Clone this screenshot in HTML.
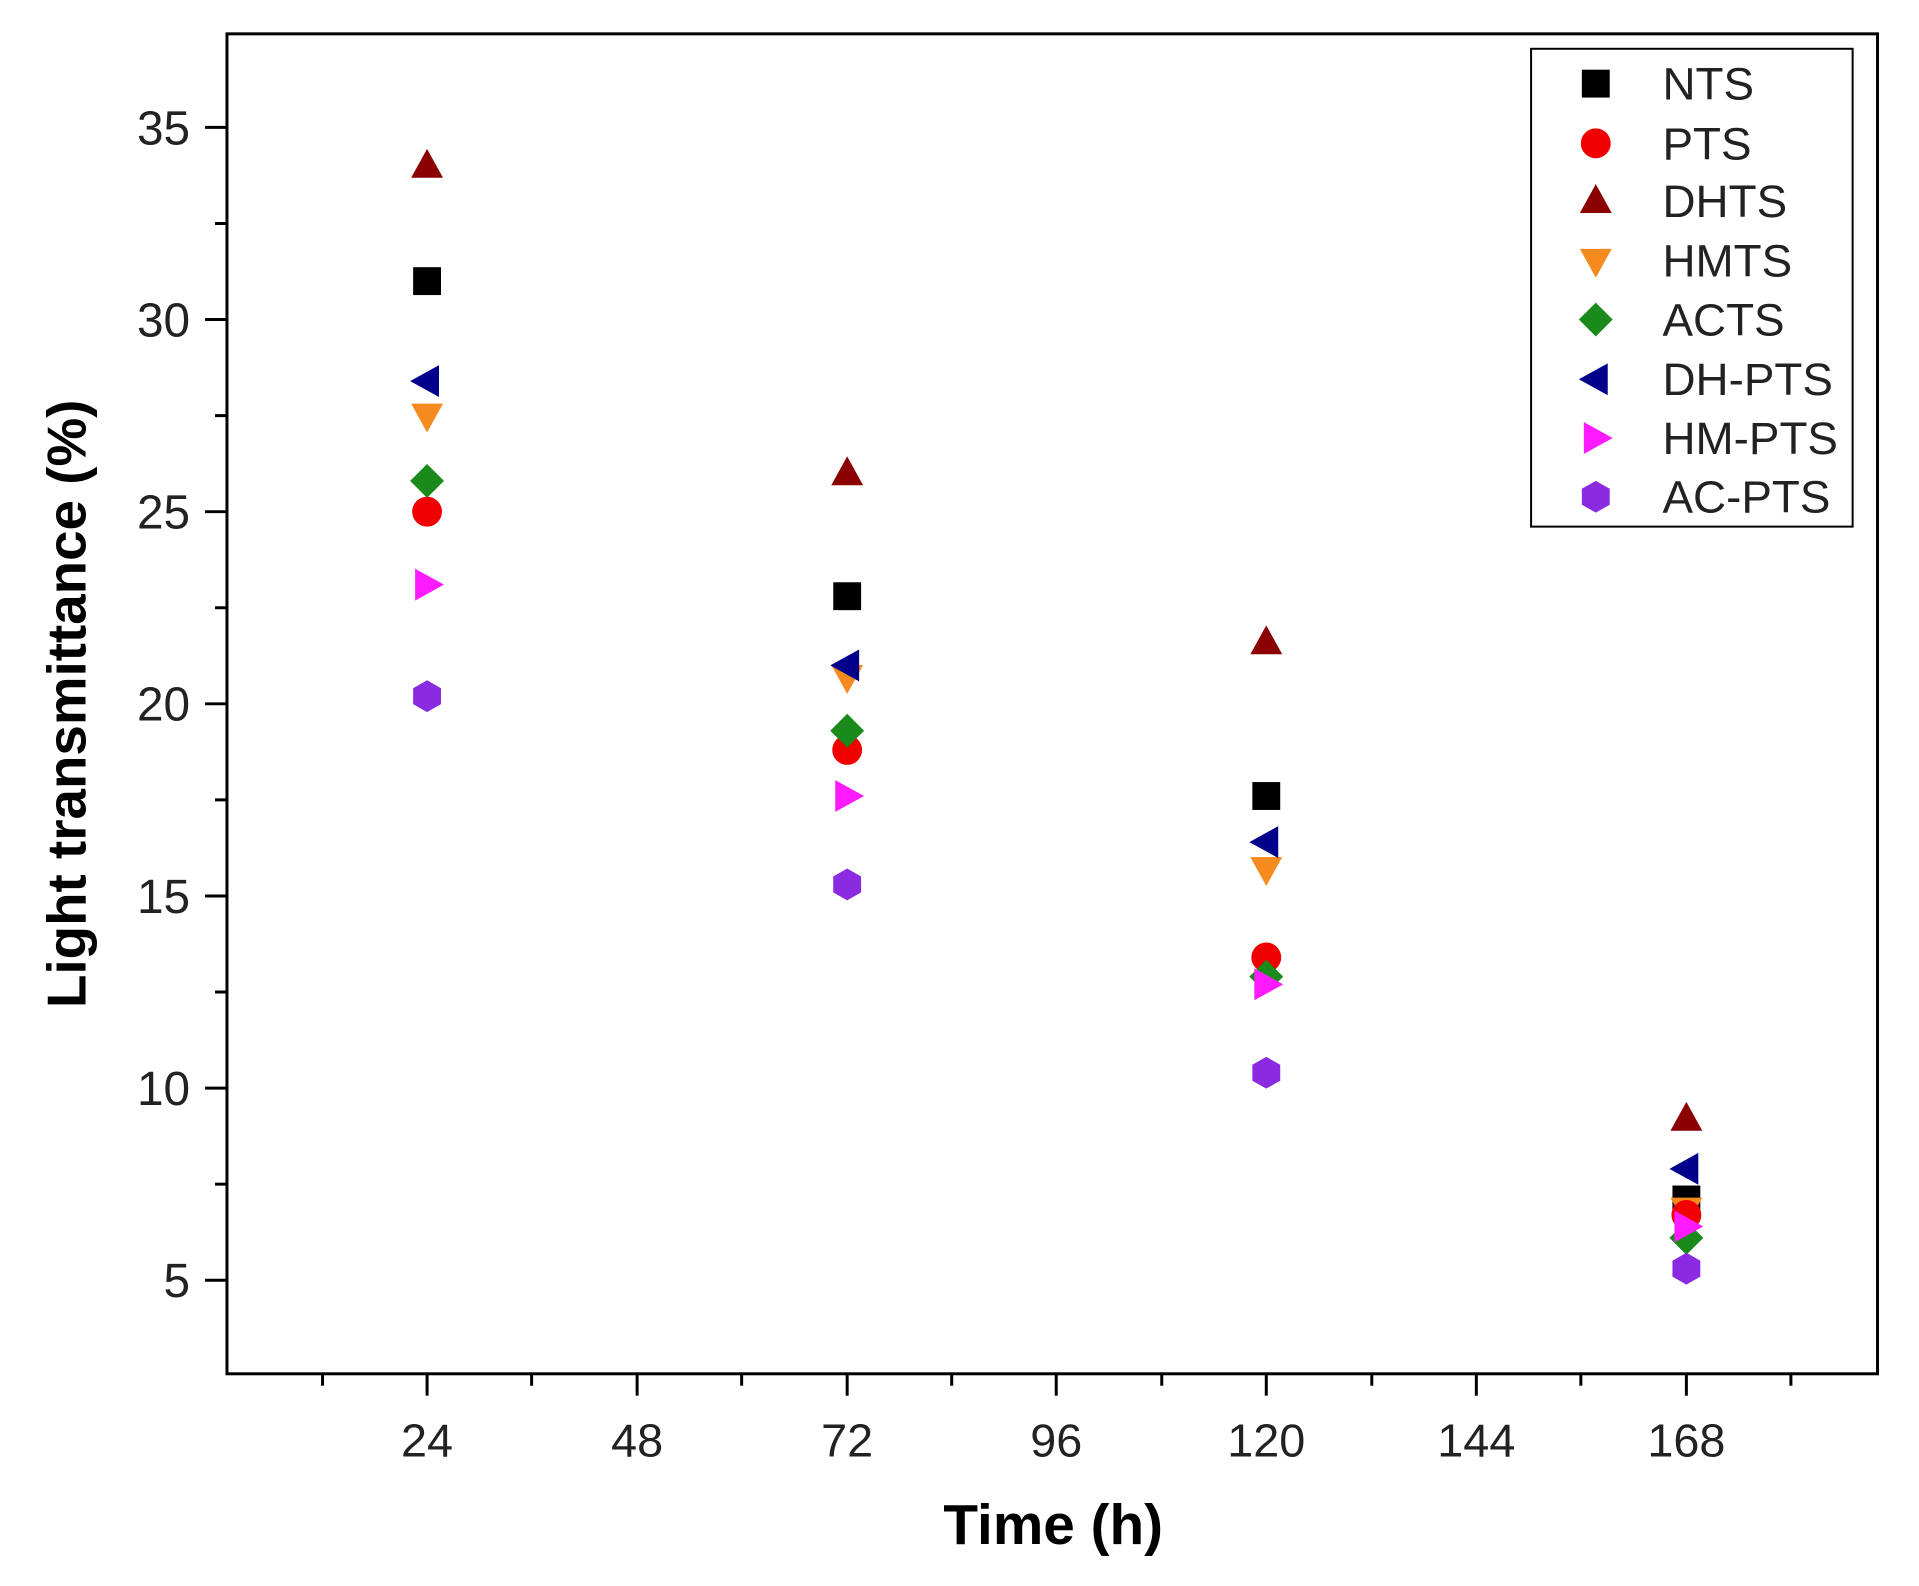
<!DOCTYPE html>
<html><head><meta charset="utf-8"><style>
body{margin:0;background:#fff}
svg{display:block}
text{font-family:"Liberation Sans",Arial,sans-serif}
</style></head><body>
<svg width="1919" height="1586" viewBox="0 0 1919 1586" xmlns="http://www.w3.org/2000/svg">
<defs>
<g id="sq"><rect x="-14" y="-14" width="28" height="28" fill="#000"/></g>
<g id="ci"><circle r="15" fill="#f00000"/></g>
<g id="tu"><polygon points="0,-17 16,12 -16,12" fill="#8b0000"/></g>
<g id="td"><polygon points="0,17 16,-12 -16,-12" fill="#f58a1f"/></g>
<g id="di"><polygon points="0,-17 17,0 0,17 -17,0" fill="#1a8a1a"/></g>
<g id="tl"><polygon points="-17,0 12,-16 12,16" fill="#00008b"/></g>
<g id="tr"><polygon points="17,0 -12,-16 -12,16" fill="#ff1aff"/></g>
<g id="hx"><polygon points="0,-16 14,-8 14,8 0,16 -14,8 -14,-8" fill="#8a2be2"/></g>
</defs>
<g transform="scale(0.9955)">
<rect x="228" y="34" width="1658" height="1346" fill="none" stroke="#000" stroke-width="3"/>
<g stroke="#000" stroke-width="3">
<line x1="206" y1="128" x2="228" y2="128"/><line x1="206" y1="321" x2="228" y2="321"/><line x1="206" y1="514" x2="228" y2="514"/><line x1="206" y1="707" x2="228" y2="707"/><line x1="206" y1="900" x2="228" y2="900"/><line x1="206" y1="1093" x2="228" y2="1093"/><line x1="206" y1="1286" x2="228" y2="1286"/>
<line x1="216" y1="224.5" x2="228" y2="224.5"/><line x1="216" y1="417.5" x2="228" y2="417.5"/><line x1="216" y1="610.5" x2="228" y2="610.5"/><line x1="216" y1="803.5" x2="228" y2="803.5"/><line x1="216" y1="996.5" x2="228" y2="996.5"/><line x1="216" y1="1189.5" x2="228" y2="1189.5"/>
<line x1="429" y1="1380" x2="429" y2="1402"/><line x1="640" y1="1380" x2="640" y2="1402"/><line x1="851" y1="1380" x2="851" y2="1402"/><line x1="1061" y1="1380" x2="1061" y2="1402"/><line x1="1272" y1="1380" x2="1272" y2="1402"/><line x1="1483" y1="1380" x2="1483" y2="1402"/><line x1="1694" y1="1380" x2="1694" y2="1402"/>
<line x1="324" y1="1380" x2="324" y2="1392"/><line x1="534" y1="1380" x2="534" y2="1392"/><line x1="745" y1="1380" x2="745" y2="1392"/><line x1="956" y1="1380" x2="956" y2="1392"/><line x1="1167" y1="1380" x2="1167" y2="1392"/><line x1="1378" y1="1380" x2="1378" y2="1392"/><line x1="1588" y1="1380" x2="1588" y2="1392"/><line x1="1799" y1="1380" x2="1799" y2="1392"/>
</g>
<g font-size="48" text-anchor="end" fill="#222">
<text x="191" y="145">35</text><text x="191" y="338">30</text><text x="191" y="531">25</text><text x="191" y="724">20</text><text x="191" y="917">15</text><text x="191" y="1110">10</text><text x="191" y="1303">5</text>
</g>
<g font-size="47" text-anchor="middle" fill="#222">
<text x="429" y="1463">24</text><text x="640" y="1463">48</text><text x="851" y="1463">72</text><text x="1061" y="1463">96</text><text x="1272" y="1463">120</text><text x="1483" y="1463">144</text><text x="1694" y="1463">168</text>
</g>
<text x="1058" y="1551" font-size="57" font-weight="bold" text-anchor="middle">Time (h)</text>
<text transform="translate(86,707) rotate(-90)" font-size="55" font-weight="bold" text-anchor="middle">Light transmittance (%)</text>
<use href="#tu" x="429" y="166.6"/><use href="#sq" x="429" y="282.4"/><use href="#tl" x="429" y="382.8"/><use href="#td" x="429" y="417.5"/><use href="#di" x="429" y="483.1"/><use href="#ci" x="429" y="514"/><use href="#tr" x="429" y="587.3"/><use href="#hx" x="429" y="699.3"/>
<use href="#tu" x="851" y="475.4"/><use href="#sq" x="851" y="598.9"/><use href="#td" x="851" y="680"/><use href="#tl" x="851" y="668.4"/><use href="#ci" x="851" y="753.3"/><use href="#di" x="851" y="734"/><use href="#tr" x="851" y="799.6"/><use href="#hx" x="851" y="888.4"/>
<use href="#tu" x="1272" y="645.2"/><use href="#sq" x="1272" y="799.6"/><use href="#td" x="1272" y="873"/><use href="#tl" x="1272" y="845.9"/><use href="#ci" x="1272" y="961.8"/><use href="#di" x="1272" y="981.1"/><use href="#tr" x="1272" y="988.8"/><use href="#hx" x="1272" y="1077.6"/>
<use href="#tu" x="1694" y="1123.9"/><use href="#tl" x="1694" y="1174.1"/><use href="#sq" x="1694" y="1204.9"/><use href="#td" x="1694" y="1215"/><use href="#ci" x="1694" y="1220.4"/><use href="#di" x="1694" y="1243.5"/><use href="#tr" x="1694" y="1232"/><use href="#hx" x="1694" y="1274.4"/>
<rect x="1538" y="49" width="323" height="480" fill="#fff" stroke="#000" stroke-width="2"/>
<use href="#sq" x="1603" y="84"/><use href="#ci" x="1603" y="144"/><use href="#tu" x="1603" y="202"/><use href="#td" x="1603" y="262"/><use href="#di" x="1603" y="321"/><use href="#tl" x="1603" y="381"/><use href="#tr" x="1603" y="440"/><use href="#hx" x="1603" y="499"/>
<g font-size="46" fill="#222">
<text x="1670" y="100">NTS</text><text x="1670" y="160">PTS</text><text x="1670" y="218">DHTS</text><text x="1670" y="278">HMTS</text><text x="1670" y="337">ACTS</text><text x="1670" y="397">DH-PTS</text><text x="1670" y="456">HM-PTS</text><text x="1670" y="515">AC-PTS</text>
</g>
</g>
</svg>
</body></html>
